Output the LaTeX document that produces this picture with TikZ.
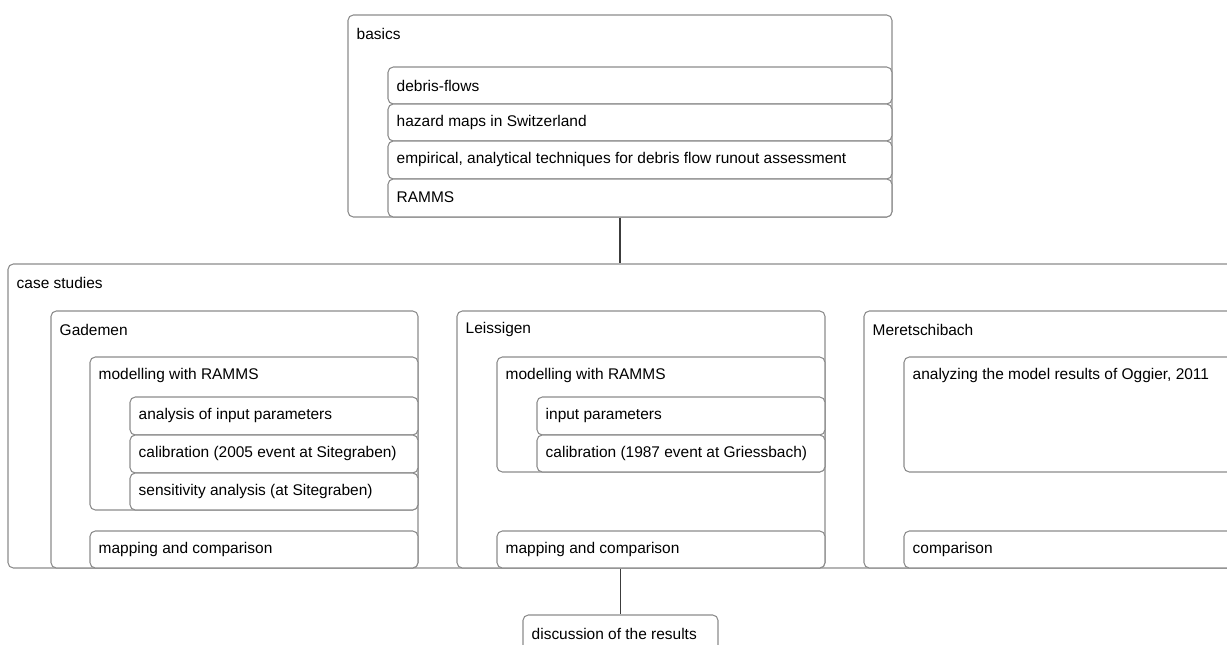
\documentclass[tikz,border=0pt]{standalone}
\usepackage{fontspec}
\setmainfont{Liberation Sans}
\usepackage{xcolor}
\usetikzlibrary{fit}
\usetikzlibrary{positioning}
\definecolor{framegray}{RGB}{140,140,140}
\definecolor{linkgray}{RGB}{60,60,60}

\begin{document}
\begin{tikzpicture}[
        x=0.75pt, y=-0.75pt,
        frame/.style={draw=framegray, line width=0.8pt, rounded corners=4pt, fill=white, inner sep=0pt},
        caption/.style={anchor=west, inner sep=0pt, font=\fontsize{11.6}{13}\selectfont, xshift=6.75pt, yshift=-14.4pt},
        link/.style={draw=linkgray, line width=0.9pt}
    ]
    \useasboundingbox (0,0) rectangle (1227,645);
    \clip (0,0) rectangle (1227,645);

    %=== Block macro ===%
    \newcommand{\block}[6]{
        \node[frame, fit={(#2,#3) (#4,#5)}, label={[caption]north west:{#6}}] (#1) {};
    }

    %=== BASICS ===%
    \block{basics}{348}{15}{892}{217}{basics}
    \block{debris}{388}{67}{892}{104}{debris-flows}
    \block{hazard}{388}{104}{892}{141}{hazard maps in Switzerland}
    \block{empirical}{388}{141}{892}{179}{empirical, analytical techniques for debris flow runout assessment}
    \block{ramms}{388}{179}{892}{217}{RAMMS}

    %=== CASE STUDIES ===%
    \block{cases}{8}{264}{1262}{568}{case studies}

    \block{gademen}{51}{311}{418}{568}{Gademen}
    \block{gmodel}{90}{357}{418}{510}{modelling with RAMMS}
    \block{ginput}{130}{397}{418}{435}{analysis of input parameters}
    \block{gcalib}{130}{435}{418}{473}{calibration (2005 event at Sitegraben)}
    \block{gsens}{130}{473}{418}{510}{sensitivity analysis (at Sitegraben)}
    \block{gmap}{90}{531}{418}{568}{mapping and comparison}

    \block{leissigen}{457}{311}{825}{568}{Leissigen}
    \block{lmodel}{497}{357}{825}{472}{modelling with RAMMS}
    \block{linput}{537}{397}{825}{435}{input parameters}
    \block{lcalib}{537}{435}{825}{472}{calibration (1987 event at Griessbach)}
    \block{lmap}{497}{531}{825}{568}{mapping and comparison}

    \block{meret}{864}{311}{1264}{568}{Meretschibach}
    \block{manalyze}{904}{357}{1264}{472}{analyzing the model results of Oggier, 2011}
    \block{mcompare}{904}{531}{1264}{568}{comparison}

    %=== DISCUSSION ===%
    \block{discussion}{523}{615}{718}{660}{discussion of the results}

    % connectors
    \draw[link] (basics.south) -- (basics.south |- cases.north);
    \draw[link] (discussion.north |- cases.south) -- (discussion.north);
\end{tikzpicture}
\end{document}
